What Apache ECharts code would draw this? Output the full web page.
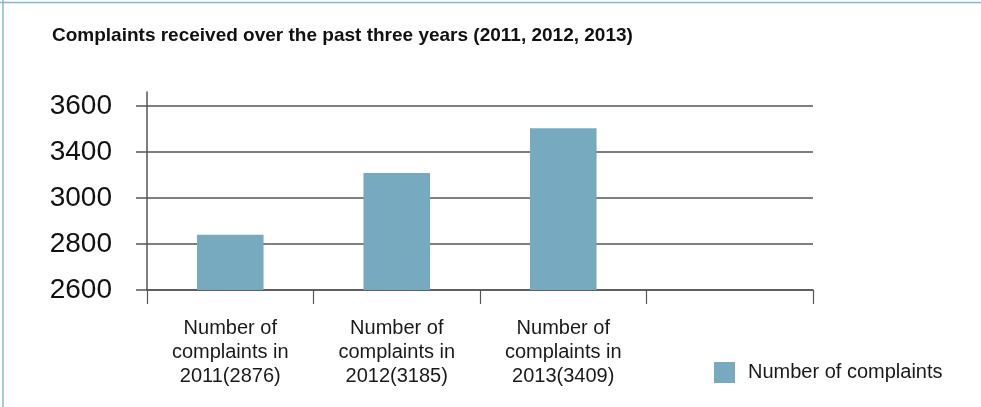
<!DOCTYPE html>
<html>
<head>
<meta charset="utf-8">
<style>
  html, body { margin: 0; padding: 0; background: #ffffff; }
  #chart { width: 981px; height: 407px; }
</style>
<script src="https://cdn.jsdelivr.net/npm/echarts@6/dist/echarts.min.js"></script>
</head>
<body>
<div id="chart"></div>
<script>
// Complaint counts per year
const years = ['2011', '2012', '2013', ''];
const complaints = [2876, 3185, 3409, null];
// Labels printed next to the horizontal grid lines, bottom to top
const yTickLabels = ['2600', '2800', '3000', '3400', '3600'];
const seriesName = 'Number of complaints';

const font = '"Liberation Sans", Arial, Helvetica, sans-serif';
const barColor = '#78aabf';
const gridColor = '#555555';
const frameColor = '#86b8d3';

const chart = echarts.init(document.getElementById('chart'), null, { renderer: 'canvas' });

const gridBox = { left: 147, right: 168, bottom: 117 };

chart.setOption({
  animation: false,
  backgroundColor: '#ffffff',
  title: {
    text: 'Complaints received over the past three years (2011, 2012, 2013)',
    left: 47,
    top: 21,
    textStyle: { fontFamily: font, fontSize: 19, fontWeight: 'bold', color: '#111111' }
  },
  legend: {
    data: [seriesName],
    left: 709,
    top: 357,
    itemWidth: 21,
    itemHeight: 21,
    icon: 'rect',
    textStyle: { fontFamily: font, fontSize: 20, color: '#1a1a1a', padding: [0, 0, 0, 8] }
  },
  graphic: [
    { type: 'line', shape: { x1: 0, y1: 2.5, x2: 981, y2: 2.5 }, style: { stroke: frameColor, lineWidth: 1.5 }, silent: true },
    { type: 'line', shape: { x1: 3, y1: 0, x2: 3, y2: 407 }, style: { stroke: frameColor, lineWidth: 1.5 }, silent: true }
  ],
  grid: [
    Object.assign({ top: 106 }, gridBox),
    // taller twin grid: only carries the left axis line, which overshoots the top grid line
    Object.assign({ top: 92 }, gridBox)
  ],
  xAxis: [
    {
      type: 'category',
      gridIndex: 0,
      data: years,
      axisLine: { lineStyle: { color: gridColor, width: 1.5 } },
      axisTick: { show: true, length: 14, inside: false, lineStyle: { color: gridColor, width: 1.2 } },
      axisLabel: {
        margin: 26,
        fontFamily: font,
        fontSize: 20,
        lineHeight: 24,
        color: '#1a1a1a',
        formatter: function (val, idx) {
          if (!val) return '';
          return 'Number of\ncomplaints in\n' + val + '(' + complaints[idx] + ')';
        }
      },
      splitLine: { show: false }
    },
    { type: 'category', gridIndex: 1, data: years, show: false }
  ],
  yAxis: [
    {
      // data scale of the bars
      type: 'value',
      gridIndex: 0,
      position: 'left',
      min: 2600,
      max: 3520,
      show: false
    },
    {
      // grid lines and their labels
      type: 'value',
      gridIndex: 0,
      position: 'left',
      min: 0,
      max: yTickLabels.length - 1,
      interval: 1,
      axisLine: { show: false },
      axisTick: { show: true, length: 11, lineStyle: { color: gridColor, width: 1.5 } },
      axisLabel: {
        margin: 35,
        fontFamily: font,
        fontSize: 28,
        color: '#111111',
        formatter: function (v) { return yTickLabels[Math.round(v)] || ''; }
      },
      splitLine: { show: true, lineStyle: { color: gridColor, width: 1.5 } }
    },
    {
      type: 'value',
      gridIndex: 1,
      position: 'left',
      min: 0,
      max: 1,
      axisLine: { show: true, lineStyle: { color: gridColor, width: 1.5 } },
      axisTick: { show: false },
      axisLabel: { show: false },
      splitLine: { show: false }
    }
  ],
  series: [
    {
      name: seriesName,
      type: 'bar',
      xAxisIndex: 0,
      yAxisIndex: 0,
      data: complaints,
      barWidth: '40%',
      itemStyle: { color: barColor },
      z: 3
    }
  ]
});
</script>
</body>
</html>
